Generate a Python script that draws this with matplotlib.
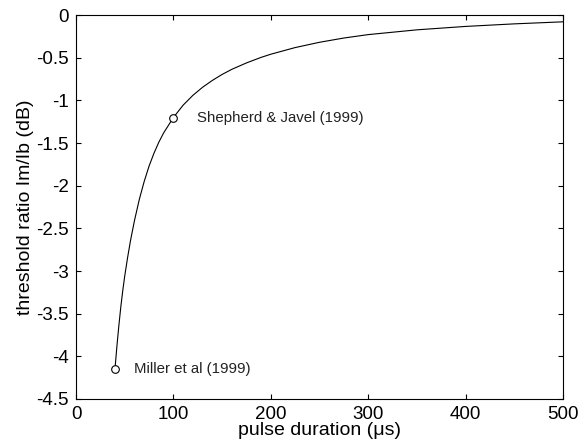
import matplotlib
matplotlib.use("Agg")
import matplotlib.pyplot as plt
from matplotlib.ticker import FormatStrFormatter

plt.rcParams["font.family"] = ["Liberation Sans", "DejaVu Sans"]
plt.rcParams["axes.unicode_minus"] = False

# curve
duration = [40, 42, 44, 46, 48, 50, 53, 56, 60, 65, 70, 75, 80, 85, 90, 95, 100,
            110, 120, 130, 140, 150, 160, 175, 190, 200, 225, 250, 275, 300,
            350, 400, 450, 500]
ratio_db = [-4.15, -3.88, -3.64, -3.42, -3.23, -3.06, -2.84, -2.64, -2.41, -2.16,
            -1.95, -1.77, -1.62, -1.49, -1.38, -1.29, -1.20,
            -1.055, -0.94, -0.845, -0.765, -0.695, -0.635, -0.56, -0.495, -0.458,
            -0.38, -0.318, -0.268, -0.228, -0.172, -0.132, -0.102, -0.078]

# the two cited measurements
study_x = [40, 100]
study_y = [-4.15, -1.2]
study_names = ["Miller et al (1999)", "Shepherd & Javel (1999)"]
label_offset_x = [20, 24]

fig = plt.figure(figsize=(5.78, 4.46), dpi=100)
ax = fig.add_axes([0.1315, 0.1054, 0.8425, 0.8606])

ax.plot(duration, ratio_db, color="black", lw=0.8)
ax.plot(study_x, study_y, "o", mfc="white", mec="black", ms=5.5, mew=0.8)
for x, y, name, dx in zip(study_x, study_y, study_names, label_offset_x):
    ax.text(x + dx, y, name, fontsize=10.8, va="center", ha="left", color="#222222")

ax.set_xlim(0, 500)
ax.set_ylim(-4.5, 0)
ax.set_xticks([0, 100, 200, 300, 400, 500])
ax.set_yticks([0, -0.5, -1, -1.5, -2, -2.5, -3, -3.5, -4, -4.5])
ax.yaxis.set_major_formatter(FormatStrFormatter("%g"))
ax.tick_params(direction="in", top=True, right=True, labelsize=13.5,
               length=3.8, width=0.8, pad=5)
for s in ax.spines.values():
    s.set_linewidth(0.8)

ax.set_xlabel("pulse duration (\u03bcs)", fontsize=14, labelpad=-1)
ax.set_ylabel("threshold ratio Im/Ib (dB)", fontsize=14, labelpad=2)

fig.savefig("out.png", dpi=100)
